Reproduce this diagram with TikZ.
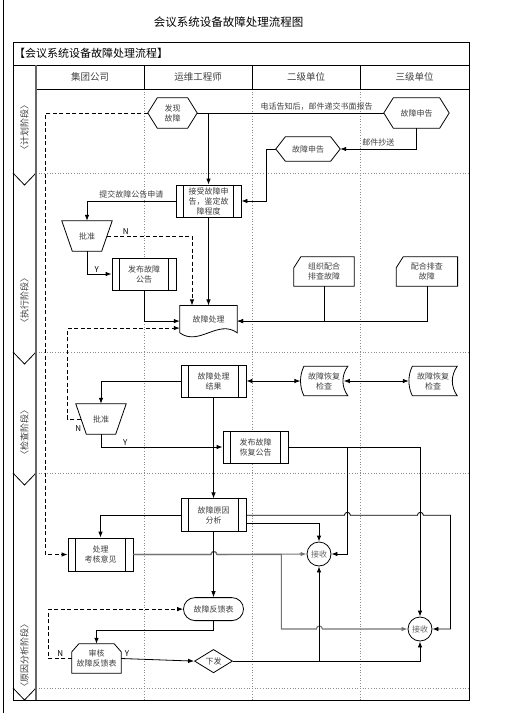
\documentclass[tikz,border=0pt]{standalone}
\usepackage{fontspec}
\setmainfont{Noto Sans CJK SC}
\usetikzlibrary{arrows.meta, positioning, shapes.geometric}

\begin{document}
\begin{tikzpicture}[
        x=1pt, y=-1pt,
        font=\fontsize{8}{10}\selectfont,
        contorno/.style={draw=black, line width=0.8pt},
        caixa/.style={contorno, fill=white, minimum width=65pt, minimum height=32pt, inner sep=0pt, align=center, text=black!75,
            path picture={\draw[line width=0.8pt]
                ([xshift=7.5pt]path picture bounding box.north west) -- ([xshift=7.5pt]path picture bounding box.south west)
                ([xshift=-7.5pt]path picture bounding box.north east) -- ([xshift=-7.5pt]path picture bounding box.south east);}},
        hexagono/.style={minimum width=#1, minimum height=30pt, inner sep=0pt, align=center, text=black!75,
            append after command={\pgfextra{\draw[contorno]
                ([xshift=9.5pt]\tikzlastnode.north west) -- ([xshift=-9.5pt]\tikzlastnode.north east) -- (\tikzlastnode.east)
                -- ([xshift=-9.5pt]\tikzlastnode.south east) -- ([xshift=9.5pt]\tikzlastnode.south west) -- (\tikzlastnode.west) -- cycle;}}},
        trapezio/.style={minimum width=50pt, minimum height=30pt, inner sep=0pt, text=black!75,
            append after command={\pgfextra{\draw[contorno]
                (\tikzlastnode.north west) -- (\tikzlastnode.north east) -- ([xshift=-10.5pt]\tikzlastnode.south east)
                -- ([xshift=10.5pt]\tikzlastnode.south west) -- cycle;}}},
        documento/.style={minimum width=57pt, minimum height=31pt, inner sep=0pt, text=black!75,
            append after command={\pgfextra{\draw[contorno]
                (\tikzlastnode.north west) -- (\tikzlastnode.north east) -- ([yshift=4pt]\tikzlastnode.south east)
                .. controls +(-19pt,14pt) and +(19pt,-14pt) .. ([yshift=4pt]\tikzlastnode.south west) -- cycle;}}},
        cartao/.style={minimum width=60pt, minimum height=29pt, inner sep=0pt, align=center, text=black!75,
            append after command={\pgfextra{\draw[contorno]
                ([yshift=-11pt]\tikzlastnode.north west) -- ([xshift=7pt]\tikzlastnode.north west) -- (\tikzlastnode.north east)
                -- (\tikzlastnode.south east) -- (\tikzlastnode.south west) -- cycle;}}},
        armazenado/.style={minimum width=#1, minimum height=29pt, inner sep=0pt, align=center, text=black!75,
            append after command={\pgfextra{\draw[contorno]
                ([xshift=3.5pt]\tikzlastnode.north west) -- (\tikzlastnode.north east)
                .. controls +(-6.5pt,-9pt) and +(-6.5pt,9pt) .. (\tikzlastnode.south east)
                -- ([xshift=3.5pt]\tikzlastnode.south west)
                .. controls +(-4.5pt,9pt) and +(-4.5pt,-9pt) .. ([xshift=3.5pt]\tikzlastnode.north west) -- cycle;}}},
        limite/.style={minimum width=49pt, minimum height=29pt, inner sep=0pt, align=center, text=black!75,
            append after command={\pgfextra{\draw[contorno]
                ([yshift=-8pt]\tikzlastnode.north west) -- ([xshift=7pt]\tikzlastnode.north west)
                -- ([xshift=-7pt]\tikzlastnode.north east) -- ([yshift=-8pt]\tikzlastnode.north east)
                -- (\tikzlastnode.south east) -- (\tikzlastnode.south west) -- cycle;}}},
        decisao/.style={diamond, contorno, minimum width=38pt, minimum height=22pt, inner sep=0pt, text=black!75},
        juncao/.style={circle, contorno, minimum size=24pt, inner sep=0pt, text=black!60},
        terminal/.style={rectangle, contorno, rounded corners=11.5pt, minimum width=60pt, minimum height=23pt, inner sep=0pt, text=black!75},
        linha/.style={line width=0.8pt},
        seta/.style={-{Latex[length=6pt, width=4.5pt]}, line width=0.8pt},
        tracejada/.style={seta, dash pattern=on 4pt off 2.5pt},
        dupla/.style={{Latex[length=6pt, width=4.5pt]}-{Latex[length=6pt, width=4.5pt]}, line width=0.8pt},
        cinza/.style={seta, draw=black!55, line width=1.1pt},
        rotulo/.style={text=black!75, inner sep=2pt},
        marca/.style={inner sep=1.5pt},
        fase/.style={rotate=90, font=\fontsize{9}{11}\selectfont, text=black!75},
        coluna/.style={font=\fontsize{9.5}{11}\selectfont, text=black!75},
        grade/.style={draw=black!45, dotted, line width=0.7pt}
    ]
        \useasboundingbox (0,0) rectangle (504,713);

        \draw[line width=1pt] (3.5,0) -- (3.5,713);
        \foreach \x in {144,252,360} \draw[grade] (\x,89) -- (\x,700);
        \foreach \y in {173,352,473,688} {
            \draw[grade] (36,\y) -- (469,\y);
            \draw[linha] (13,\y) -- (24.5,\y+12) -- (36,\y);
        }
        \draw[linha] (13,42) rectangle (469,700);
        \draw[linha] (13,65) -- (469,65) (36,89) -- (469,89);
        \draw[linha] (144,65) -- (144,89) (252,65) -- (252,89) (360,65) -- (360,89);
        \draw[black!60, line width=1.2pt] (36,65) -- (36,700);

        \node[font=\fontsize{11.5}{13}\selectfont] (titulo) at (228.5,22) {会议系统设备故障处理流程图};
        \node[font=\fontsize{11}{13}\selectfont, anchor=west, inner sep=1pt] (cabecalho) at (13,53.5) {【会议系统设备故障处理流程】};
        \node[coluna] (grupo) at (90,77) {集团公司};
        \node[coluna] (engenheiro) at (198,77) {运维工程师};
        \node[coluna] (nivel2) at (306,77) {二级单位};
        \node[coluna] (nivel3) at (414.5,77) {三级单位};

        \node[fase] (plano) at (24.5,127) {〈计划阶段〉};
        \node[fase] (execucao) at (24.5,300) {〈执行阶段〉};
        \node[fase] (verificacao) at (24.5,432) {〈检查阶段〉};
        \node[fase] (analise) at (24.5,655) {〈原因分析阶段〉};

        \node[hexagono=49pt] (descoberta) at (172.5,113) {发现\\故障};
        \node[hexagono=65pt] (aviso3) at (416.5,113) {故障申告};
        \node[hexagono=64pt, minimum height=24pt] (aviso2) at (308,149) {故障申告};
        \node[caixa] (aceite) at (208.5,201) {接受故障申\\告，鉴定故\\障程度};
        \node[trapezio] (aprova1) at (87,236) {批准};
        \node[caixa, minimum width=64pt] (anuncio) at (144,274) {发布故障\\公告};
        \node[documento, below=88pt of aceite] (tratamento) {\raisebox{3pt}{故障处理}};
        \node[cartao] (org2) at (324,271.5) {组织配合\\排查故障};
        \node[cartao, minimum width=61pt, right=42pt of org2] (org3) {配合排查\\故障};

        \node[caixa] (resultado) at (213.5,381) {故障处理\\结果};
        \node[armazenado=47pt, right=54pt of resultado] (verif2) {故障恢复\\检查};
        \node[armazenado=48pt, right=61pt of verif2] (verif3) {故障恢复\\检查};
        \node[trapezio] (aprova2) at (101,419) {批准};
        \node[caixa] (recuperacao) at (255.5,447) {发布故障\\恢复公告};

        \node[caixa, minimum height=33pt, below=101pt of resultado] (causa) {故障原因\\分析};
        \node[caixa, minimum height=33pt] (parecer) at (100.5,554.5) {处理\\考核意见};
        \node[juncao] (receb1) at (319,554) {接收};
        \node[juncao] (receb2) at (420,629) {接收};
        \node[terminal, below=65pt of causa] (retorno) {故障反馈表};
        \node[limite] (revisao) at (96.5,658.5) {审核\\故障反馈表};
        \node[decisao, below=28pt of retorno] (envio) {下发};

        \draw[linha] (descoberta.east) -- node[rotulo, above, pos=0.64] {电话告知后，邮件递交书面报告} (aviso3.west);
        \draw[seta] (descoberta.east) -| (aceite.north);
        \draw[tracejada] (descoberta.west) -- ++(-102,0) |- (parecer.west);
        \draw[seta] (aviso3.south) |- node[rotulo, above, pos=0.75] {邮件抄送} (aviso2.east);
        \draw[seta] (aviso2.west) -- ++(-9,0) |- (aceite.east);
        \draw[seta] (aceite.west) -| node[rotulo, above, pos=0.25] {提交故障公告申请} (aprova1.north);
        \draw[tracejada] ([xshift=-5pt]aprova1.east) -| node[marca, above, pos=0.11] {N} ([xshift=-16.5pt]tratamento.north);
        \draw[seta] (aprova1.south) |- node[marca, above, pos=0.7] {Y} (anuncio.west);
        \draw[seta] (aceite.south) -- (tratamento.north);
        \draw[seta] (anuncio.south) |- (tratamento.west);
        \draw[seta] (org2.south) |- (tratamento.east);
        \draw[seta] (org3.south) |- (tratamento.east);

        \draw[seta] (resultado.west) -| (aprova2.north);
        \draw[tracejada] ([xshift=5pt]aprova2.west) -- node[marca, below=5pt, pos=0.2] {N} ++(-13,0) |- ([yshift=-7pt]tratamento.west);
        \draw[seta] (aprova2.south) |- node[marca, above, pos=0.6] {Y} (recuperacao.west);
        \draw[dupla] (resultado.east) -- (verif2.west);
        \draw[dupla] ([xshift=-4pt]verif2.east) -- (verif3.west);
        \draw[seta] (resultado.south) -- (causa.north);
        \draw[seta] (recuperacao.east) -| ([xshift=16pt]receb1.east) -- (receb1.east);
        \draw[seta] (recuperacao.east) -| (receb2.north);

        \draw[seta] (causa.west) -| (parecer.north);
        \draw[seta] (causa.east) -- ++(98,0) arc[start angle=180, end angle=0, radius=3pt] -- ++(67,0) arc[start angle=180, end angle=0, radius=3pt] -| ([xshift=18pt]receb2.east) -- (receb2.east);
        \draw[seta] ([yshift=-8pt]causa.east) -| (receb1.north);
        \draw[cinza] (parecer.east) -- ++(77.5,0) arc[start angle=180, end angle=0, radius=3pt] -- (receb1.west);
        \draw[cinza] (parecer.east) -- ++(77.5,0) arc[start angle=180, end angle=0, radius=3pt] -- ++(64.5,0) -- ++(0,74.5) -- ++(35,0) arc[start angle=180, end angle=0, radius=3pt] -- (receb2.west);
        \draw[seta] (causa.south) -- (retorno.north);
        \draw[seta] (retorno.south) -- ++(0,9) -| (revisao.north);
        \draw[tracejada] (revisao.west) -- node[marca, above, pos=0.5] {N} ++(-23,0) |- (retorno.west);
        \draw[seta] (revisao.east) -- node[marca, above, pos=0.08] {Y} (envio.west);
        \draw[seta] (envio.east) -| (receb1.south);
        \draw[seta] (envio.east) -| (receb2.south);
    \end{tikzpicture}
\end{document}
